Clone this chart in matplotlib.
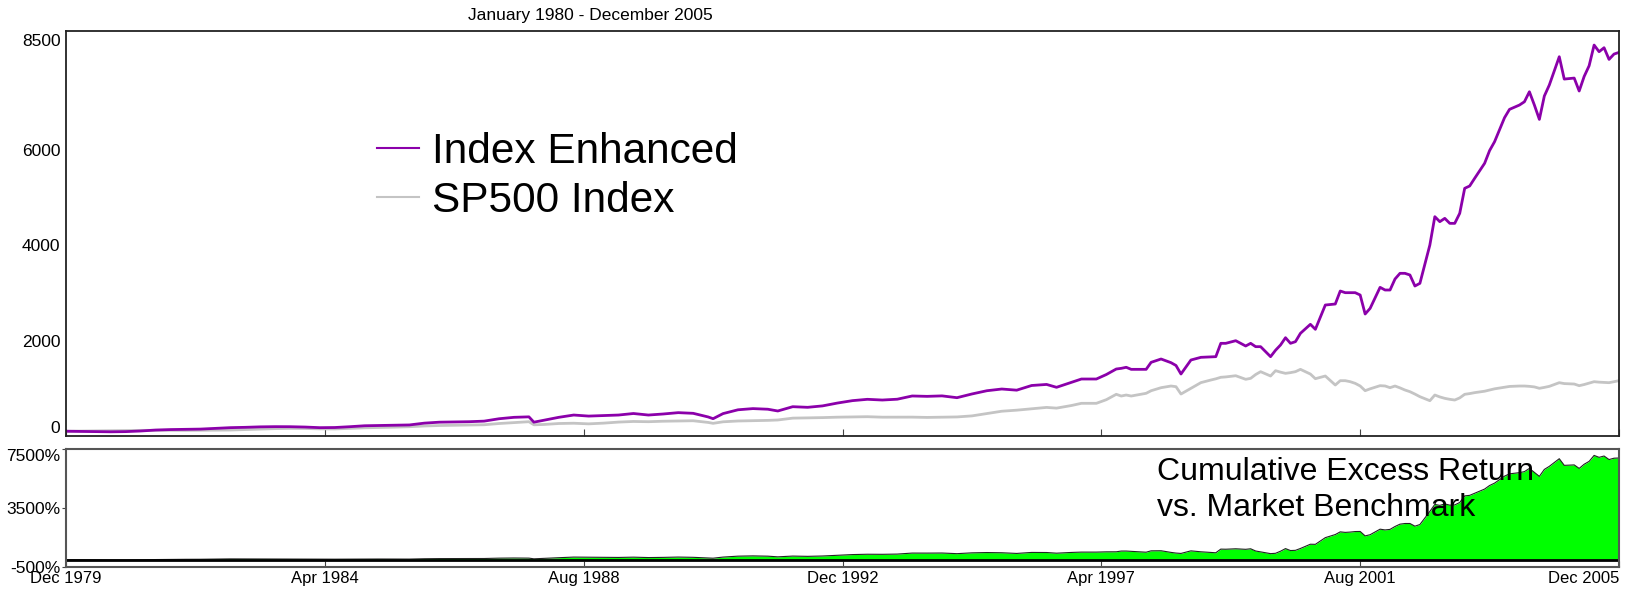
import numpy as np
import matplotlib
matplotlib.use('Agg')
import matplotlib.pyplot as plt
from matplotlib.transforms import ScaledTranslation

plt.rcParams['font.family'] = ['Liberation Sans', 'DejaVu Sans']

# month offsets from Dec 1979
months = np.array([
    0, 3, 6, 9, 12, 15, 18, 21, 24, 27, 30, 33, 36, 39, 42, 45, 48, 51, 54, 57,
    60, 63, 66, 69, 72, 75, 78, 81, 84, 87, 90, 93, 94, 96, 99, 102, 105, 108,
    111, 114, 117, 120, 123, 126, 129, 130, 132, 135, 138, 141, 143, 146, 149,
    152, 155, 158, 161, 164, 167, 170, 173, 176, 179, 182, 185, 188, 191, 194,
    197, 199, 202, 204, 207, 209, 211, 212, 213, 214, 215, 217, 218, 220, 222,
    223, 224, 226, 228, 230, 231, 232, 233, 235, 237, 238, 239, 240, 242, 243,
    244, 245, 246, 247, 248, 250, 251, 253, 255, 256, 257, 258, 259, 260, 261,
    262, 264, 265, 266, 267, 268, 269, 270, 271, 272, 274, 275, 276, 277, 278,
    279, 280, 281, 282, 283, 285, 286, 287, 289, 290, 292, 293, 294, 295, 296,
    297, 298, 300, 301, 303, 304, 305, 306, 307, 308, 309, 310, 311, 312])

enhanced = np.array([
    100, 95, 92, 88, 92, 105, 125, 135, 140, 145, 160, 175, 182, 192, 196, 195,
    188, 175, 178, 195, 215, 220, 226, 232, 270, 290, 296, 300, 312, 362, 392,
    402, 290, 330, 392, 440, 418, 430, 440, 472, 440, 462, 490, 476, 400, 363,
    470, 550, 575, 562, 525, 615, 602, 632, 692, 742, 770, 755, 772, 840, 832,
    842, 804, 882, 950, 986, 962, 1060, 1082, 1022, 1127, 1196, 1196, 1290,
    1406, 1420, 1442, 1399, 1399, 1399, 1546, 1616, 1539, 1480, 1301, 1595,
    1651, 1660, 1665, 1945, 1945, 2000, 1889, 1945, 1875, 1875, 1665, 1800,
    1910, 2063, 1945, 1980, 2155, 2344, 2239, 2749, 2770, 3043, 3008, 3008,
    3008, 2959, 2560, 2679, 3120, 3064, 3064, 3295, 3414, 3414, 3379, 3148,
    3204, 4008, 4603, 4498, 4568, 4463, 4463, 4673, 5198, 5247, 5408, 5723,
    5990, 6176, 6680, 6855, 6946, 7015, 7225, 6946, 6645, 7135, 7366, 7960,
    7491, 7512, 7240, 7546, 7771, 8205, 8065, 8149, 7904, 8016, 8051])

sp500 = np.array([
    100, 104, 108, 112, 115, 118, 120, 120, 118, 120, 122, 125, 135, 145, 155,
    160, 158, 150, 148, 160, 172, 178, 186, 195, 210, 220, 226, 230, 236, 262,
    282, 300, 235, 242, 262, 268, 255, 270, 292, 305, 300, 310, 316, 320, 285,
    266, 298, 315, 322, 328, 336, 375, 380, 386, 395, 400, 405, 395, 396, 396,
    390, 394, 400, 422, 470, 520, 542, 572, 600, 585, 640, 686, 686, 762, 875,
    839, 860, 839, 858, 896, 950, 1014, 1049, 1035, 881, 1000, 1120, 1175,
    1200, 1232, 1240, 1265, 1190, 1210, 1290, 1350, 1259, 1371, 1340, 1315,
    1330, 1350, 1399, 1300, 1203, 1259, 1070, 1161, 1161, 1140, 1105, 1050,
    951, 990, 1056, 1050, 1014, 1049, 1010, 965, 930, 880, 825, 741, 860, 820,
    790, 770, 755, 800, 875, 890, 910, 940, 965, 990, 1022, 1040, 1049, 1049,
    1042, 1030, 1001, 1020, 1042, 1119, 1100, 1091, 1056, 1080, 1110, 1140,
    1130, 1125, 1119, 1140, 1161])

tick_months = [0, 52, 104, 156, 208, 260, 312]
tick_labels = ['Dec 1979', 'Apr 1984', 'Aug 1988', 'Dec 1992',
               'Apr 1997', 'Aug 2001', 'Dec 2005']
top_yticks = [0, 2000, 4000, 6000, 8500]
bottom_yticks = [-500, 3500, 7500]

# both series start at 100, so the gap is the excess return in percent
excess = enhanced - sp500

W, H = 1625, 590
fig = plt.figure(figsize=(W / 100, H / 100), dpi=100)
ax = fig.add_axes([66 / W, 1 - 436 / H, (1619 - 66) / W, (436 - 31) / H])
ax2 = fig.add_axes([66 / W, 1 - 567 / H, (1619 - 66) / W, (567 - 449) / H])

l_sp, = ax.plot(months, sp500, color='#c4c4c4', lw=2, label='SP500 Index')
l_ie, = ax.plot(months, enhanced, color='#8b00aa', lw=2, label='Index Enhanced')
ax.set_xlim(0, 312)
ax.set_ylim(0, 8500)
ax.set_xticks(tick_months)
ax.set_yticks(top_yticks)
ax.set_yticklabels([str(v) for v in top_yticks])
ax.tick_params(axis='x', direction='in', length=5, color='#444', labelbottom=False)
ax.tick_params(axis='y', length=0, labelsize=12.5, pad=4)
yt = ax.yaxis.get_major_ticks()
yt[0].label1.set_va('bottom')
yt[-1].label1.set_va('center')
yt[-1].label1.set_transform(yt[-1].label1.get_transform()
                            + ScaledTranslation(0, -11 / 100, fig.dpi_scale_trans))
for s in ax.spines.values():
    s.set_color('#222')
    s.set_linewidth(1.3)

leg = ax.legend(handles=[l_ie, l_sp], loc='upper left',
                bbox_to_anchor=(377 / W, 1 - 132 / H), bbox_transform=fig.transFigure,
                frameon=False, fontsize=30.5, handlelength=1.0, handletextpad=0.3,
                labelspacing=0.22, borderpad=0, borderaxespad=0)
for ln in leg.get_lines():
    ln.set_linewidth(1.5)

ax2.fill_between(months, 0, excess, color='#00ff00', lw=0)
ax2.plot(months, excess, color='#222', lw=0.8)
ax2.axhline(0, color='black', lw=2)
ax2.set_xlim(0, 312)
ax2.set_ylim(-500, 7500)
ax2.set_xticks(tick_months)
ax2.set_xticklabels(tick_labels)
ax2.set_yticks(bottom_yticks)
ax2.set_yticklabels([f'{v}%' for v in bottom_yticks])
ax2.tick_params(axis='x', direction='in', length=4, color='#444', labelsize=12, pad=3)
ax2.tick_params(axis='y', length=3, color='#444', labelsize=12.5, pad=1)
ax2.yaxis.get_major_ticks()[-1].label1.set_va('top')
ax2.xaxis.get_major_ticks()[-1].label1.set_ha('right')
for s in ax2.spines.values():
    s.set_color('#555')
    s.set_linewidth(1.5)

fig.text(1157 / W, 1 - 490 / H, 'Cumulative Excess Return\nvs. Market Benchmark',
         fontsize=23, ha='left', va='center', linespacing=1.28)
fig.text(590 / W, 1 - 15.5 / H, 'January 1980 - December 2005',
         fontsize=12.5, ha='center', va='center')

fig.savefig('out.png', dpi=100)
